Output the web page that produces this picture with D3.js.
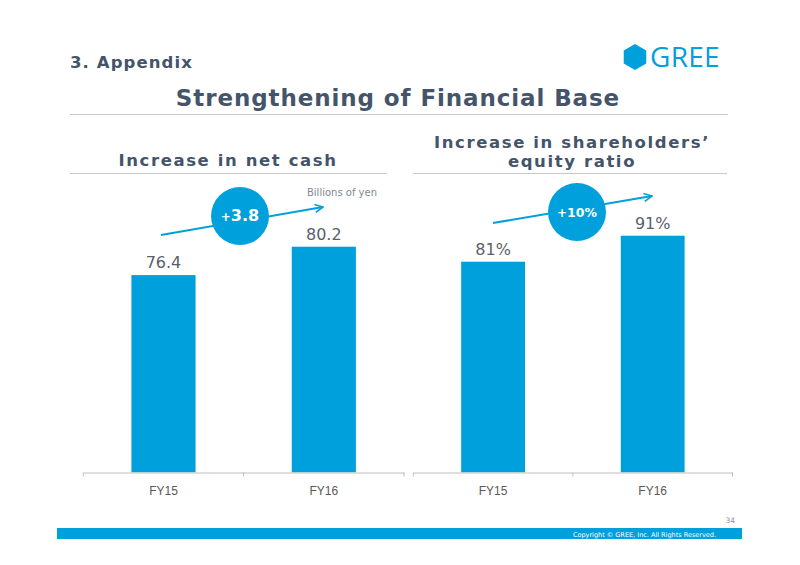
<!DOCTYPE html>
<html><head><meta charset="utf-8">
<script src="https://cdn.jsdelivr.net/npm/d3@7"></script>
<style>body{margin:0;background:#fff}svg{display:block}</style>
</head><body>
<svg id="c" width="800" height="565"></svg>
<script>
const categories = ["FY15", "FY16"];
const netCash = [76.4, 80.2];
const equityRatio = [81, 91];
const netCashLabels = ["76.4", "80.2"];
const equityLabels = ["81%", "91%"];
const deltaLabels = ["+3.8", "+10%"];

const svg = d3.select("#c");
const BLUE = "#00a0dc";
const SLATE = "#44546a";

// Header
svg.append("text").attr("x", 70).attr("y", 68).text("3. Appendix")
  .attr("font-family", "DejaVu Sans").attr("font-weight", "bold").attr("font-size", 16.5)
  .attr("letter-spacing", 1.1).attr("fill", SLATE);

// Logo
const hx = 635, hy = 57, hr = 13;
const hex = d3.range(6).map(i => { const a = Math.PI / 3 * i - Math.PI / 2; return [hx + hr * Math.cos(a), hy + hr * Math.sin(a)]; });
svg.append("polygon").attr("points", hex.map(p => p.join(",")).join(" ")).attr("fill", BLUE);
svg.append("text").attr("x", 650).attr("y", 67).text("GREE")
  .attr("font-family", "Open Sans").attr("font-size", 28).attr("letter-spacing", 0.3).attr("fill", BLUE);

svg.append("text").attr("x", 398).attr("y", 106).attr("text-anchor", "middle").text("Strengthening of Financial Base")
  .attr("font-family", "DejaVu Sans").attr("font-weight", "bold").attr("font-size", 23)
  .attr("letter-spacing", 0.9).attr("fill", SLATE);
svg.append("line").attr("x1", 70).attr("x2", 728).attr("y1", 114.5).attr("y2", 114.5).attr("stroke", "#c8c8c8");

// Sub titles
function sub(x, ys, lines) {
  lines.forEach((t, i) => svg.append("text").attr("x", x).attr("y", ys[i]).attr("text-anchor", "middle").text(t)
    .attr("font-family", "DejaVu Sans").attr("font-weight", "bold").attr("font-size", 16.5)
    .attr("letter-spacing", 1.6).attr("fill", SLATE));
}
sub(228, [166], ["Increase in net cash"]);
sub(572, [148, 167], ["Increase in shareholders\u2019", "equity ratio"]);
svg.append("line").attr("x1", 70).attr("x2", 387).attr("y1", 173.5).attr("y2", 173.5).attr("stroke", "#c8c8c8");
svg.append("line").attr("x1", 413).attr("x2", 727).attr("y1", 173.5).attr("y2", 173.5).attr("stroke", "#c8c8c8");

// marker
svg.append("defs").append("marker").attr("id", "arr").attr("viewBox", "0 0 10 10").attr("refX", 9).attr("refY", 5)
  .attr("markerWidth", 10).attr("markerHeight", 10).attr("markerUnits", "userSpaceOnUse").attr("orient", "auto")
  .append("path").attr("d", "M1,1 L9,5 L1,9").attr("fill", "none").attr("stroke", BLUE).attr("stroke-width", 1.6);

function chart(opt) {
  const x = d3.scaleBand().domain(categories).range(opt.xr).paddingInner(0.6).paddingOuter(0.3);
  const y = d3.scaleLinear().domain(opt.yd).range([472.3, 180]);
  const g = svg.append("g");
  g.selectAll("rect").data(opt.values).enter().append("rect")
    .attr("x", (d, i) => x(categories[i])).attr("width", x.bandwidth())
    .attr("y", d => y(d)).attr("height", d => y(opt.yd[0]) - y(d)).attr("fill", BLUE);
  g.selectAll("text.v").data(opt.values).enter().append("text").attr("class", "v")
    .attr("x", (d, i) => x(categories[i]) + x.bandwidth() / 2).attr("y", d => y(d) - 7)
    .attr("text-anchor", "middle").text((d, i) => opt.labels[i])
    .attr("font-family", "DejaVu Sans").attr("font-size", 16).attr("fill", "#5a5f6c");
  // axis
  const ax = g.append("g").attr("transform", "translate(0,472.5)")
    .call(d3.axisBottom(x).tickSize(0).tickPadding(14));
  ax.select(".domain").attr("stroke", "#bfbfbf");
  ax.selectAll("text").attr("font-family", "Liberation Sans").attr("font-size", 12).attr("fill", "#595959");
  const bounds = [opt.xr[0], (opt.xr[0] + opt.xr[1]) / 2, opt.xr[1]];
  g.selectAll("line.t").data(bounds).enter().append("line").attr("class", "t")
    .attr("x1", d => d).attr("x2", d => d).attr("y1", 472.5).attr("y2", 476.5).attr("stroke", "#bfbfbf");
  // arrow
  g.append("line").attr("x1", opt.arrow[0]).attr("y1", opt.arrow[1]).attr("x2", opt.arrow[2]).attr("y2", opt.arrow[3])
    .attr("stroke", BLUE).attr("stroke-width", 2).attr("marker-end", "url(#arr)");
  g.append("circle").attr("cx", opt.circle[0]).attr("cy", opt.circle[1]).attr("r", 29).attr("fill", BLUE);
  const dt = g.append("text").attr("x", opt.circle[0]).attr("y", opt.circle[1] + 5).attr("text-anchor", "middle")
    .attr("font-family", "DejaVu Sans").attr("font-weight", "bold").attr("fill", "#fff");
  dt.append("tspan").attr("font-size", opt.plusSize).text(opt.delta[0]);
  dt.append("tspan").attr("font-size", opt.deltaSize).text(opt.delta.slice(1));
}
chart({ xr: [83.3, 404], yd: [50, 50 + 292.3 / 7.47], values: netCash, labels: netCashLabels,
  arrow: [161, 235, 323, 207], circle: [240, 216], delta: deltaLabels[0], plusSize: 12, deltaSize: 16 });
chart({ xr: [413.3, 732.5], yd: [0, 292.3 / 2.6], values: equityRatio, labels: equityLabels,
  arrow: [493, 223, 652, 196], circle: [577, 212], delta: deltaLabels[1], plusSize: 12, deltaSize: 12.5 });

svg.append("text").attr("x", 342).attr("y", 196).text("Billions of yen").attr("text-anchor", "middle")
  .attr("font-family", "DejaVu Sans").attr("font-size", 10).attr("fill", "#7f8896");

// footer
svg.append("text").attr("x", 735).attr("y", 523).attr("text-anchor", "end").text("34")
  .attr("font-family", "DejaVu Sans").attr("font-size", 7.5).attr("fill", "#8a93a0");
svg.append("rect").attr("x", 57).attr("y", 528).attr("width", 685).attr("height", 11).attr("fill", BLUE);
svg.append("text").attr("x", 716).attr("y", 536.5).attr("text-anchor", "end").text("Copyright \u00a9 GREE, Inc. All Rights Reserved.")
  .attr("font-family", "DejaVu Sans").attr("font-size", 6.5).attr("fill", "#fff");
</script>
</body></html>
